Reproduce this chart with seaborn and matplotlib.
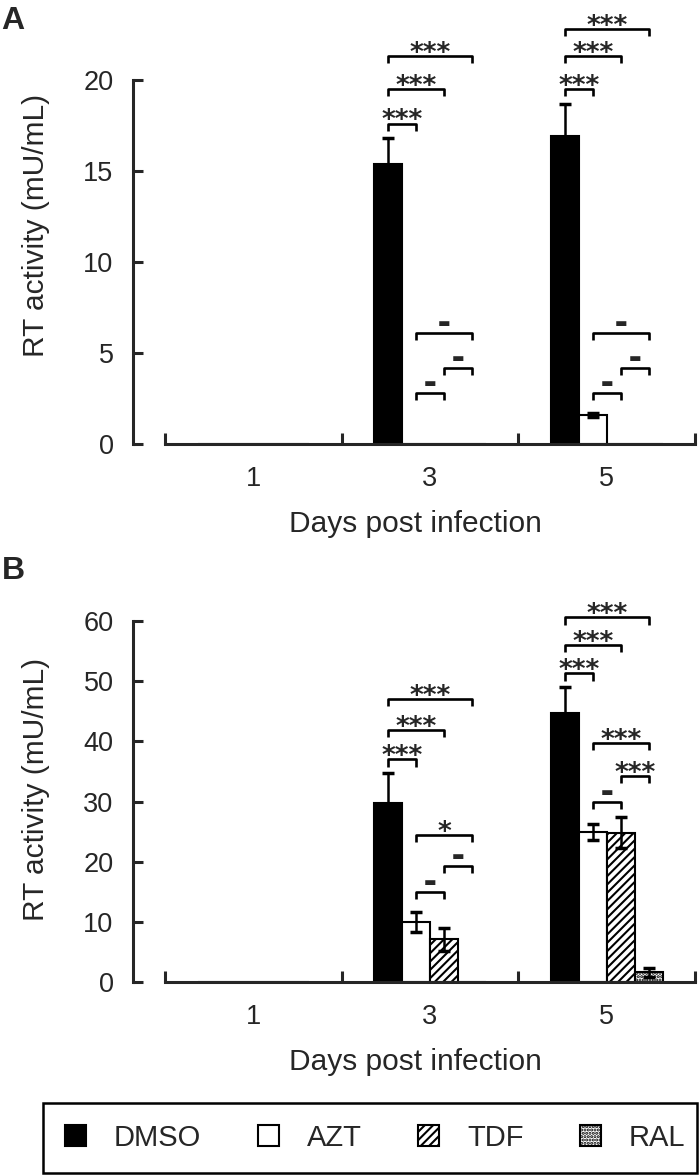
import pandas as pd
import matplotlib.pyplot as plt
import seaborn as sns
from matplotlib.patches import Rectangle

# values (mU/mL)
days = ['1', '3', '5']
drugs = ['DMSO', 'AZT', 'TDF', 'RAL']

# panel A
rt_a_dmso = [0, 15.4, 16.9]
rt_a_azt = [0, 0, 1.6]
rt_a_tdf = [0, 0, 0]
rt_a_ral = [0, 0, 0]
sd_a_dmso = [0, 1.4, 1.8]
sd_a_azt = [0, 0, 0.1]
sd_a_tdf = [0, 0, 0]
sd_a_ral = [0, 0, 0]

# panel B
rt_b_dmso = [0, 29.7, 44.7]
rt_b_azt = [0, 10.0, 24.9]
rt_b_tdf = [0, 7.1, 24.8]
rt_b_ral = [0, 0, 1.6]
sd_b_dmso = [0, 5.0, 4.3]
sd_b_azt = [0, 1.7, 1.3]
sd_b_tdf = [0, 1.9, 2.6]
sd_b_ral = [0, 0, 0.7]

# significance brackets: (day index, drug i, drug j, height, label)
sig_a = [
    (1, 0, 1, 17.6, '***'), (1, 0, 2, 19.5, '***'), (1, 0, 3, 21.3, '***'),
    (1, 1, 2, 2.8, '–'), (1, 2, 3, 4.2, '–'), (1, 1, 3, 6.1, '–'),
    (2, 0, 1, 19.5, '***'), (2, 0, 2, 21.3, '***'), (2, 0, 3, 22.8, '***'),
    (2, 1, 2, 2.8, '–'), (2, 2, 3, 4.2, '–'), (2, 1, 3, 6.1, '–'),
]
sig_b = [
    (1, 0, 1, 37.0, '***'), (1, 0, 2, 41.9, '***'), (1, 0, 3, 47.0, '***'),
    (1, 1, 2, 15.0, '–'), (1, 2, 3, 19.3, '–'), (1, 1, 3, 24.4, '*'),
    (2, 0, 1, 51.3, '***'), (2, 0, 2, 56.0, '***'), (2, 0, 3, 60.6, '***'),
    (2, 1, 2, 29.9, '–'), (2, 2, 3, 34.2, '***'), (2, 1, 3, 39.7, '***'),
]

sns.set_style('ticks')
plt.rcParams['font.family'] = ['Liberation Sans', 'DejaVu Sans']
plt.rcParams['hatch.linewidth'] = 1.5

palette = {'DMSO': 'black', 'AZT': 'white', 'TDF': 'white', 'RAL': 'white'}
hatches = {'DMSO': '', 'AZT': '', 'TDF': '////', 'RAL': '.....'}


def make_df(values, errors):
    rows = []
    for drug, vals, errs in zip(drugs, values, errors):
        for d, v, e in zip(days, vals, errs):
            rows.append({'day': d, 'drug': drug, 'rt': v, 'sd': e})
    return pd.DataFrame(rows)


def draw_panel(ax, df, ymax, ytop, ystep, leg, sig):
    sns.barplot(data=df, x='day', y='rt', hue='drug', order=days, hue_order=drugs,
                palette=palette, width=0.63, edgecolor='black', linewidth=1.5,
                errorbar=None, legend=False, ax=ax)
    bar_sets = list(ax.containers)
    centers = {}
    for i, cont in enumerate(bar_sets):
        drug = drugs[i]
        for j, bar in enumerate(cont.patches):
            bar.set_hatch(hatches[drug])
            x = bar.get_x() + bar.get_width() / 2
            centers[(j, i)] = x
            err = df[(df.drug == drug) & (df.day == days[j])]['sd'].iloc[0]
            if err > 0:
                ax.errorbar(x, bar.get_height(), yerr=err, color='black',
                            lw=1.8, capsize=4, capthick=2.5)
    # brackets
    for d, i, j, y, lab in sig:
        x1, x2 = centers[(d, i)], centers[(d, j)]
        ax.plot([x1, x1, x2, x2], [y - leg, y, y, y - leg], color='black',
                lw=1.9, clip_on=False, solid_capstyle='butt')
        if lab == '–':
            ax.annotate('▬', ((x1 + x2) / 2, y), xytext=(0, 2), textcoords='offset points',
                        ha='center', va='bottom', fontsize=9.5, family='DejaVu Sans')
        else:
            ax.annotate(lab, ((x1 + x2) / 2, y), xytext=(0, -3.5), textcoords='offset points',
                        ha='center', va='baseline', fontsize=19, fontweight='bold',
                        family='DejaVu Sans')

    ax.set_xlim(-0.68, 2.51)
    ax.set_ylim(0, ytop)
    ax.set_yticks(range(0, ymax + 1, ystep))
    sns.despine(ax=ax)
    ax.spines['left'].set_bounds(0, ymax)
    ax.spines['bottom'].set_bounds(-0.5, 2.5)
    for s in ['left', 'bottom']:
        ax.spines[s].set_linewidth(2.2)
    ax.set_xticks([-0.5, 0.5, 1.5, 2.5], minor=True)
    ax.tick_params(axis='x', which='major', length=0, labelsize=19.5, pad=16)
    ax.tick_params(axis='x', which='minor', direction='in', length=8, width=2.2)
    ax.tick_params(axis='y', direction='in', length=7, width=2.2, labelsize=19.5, pad=14)
    ax.set_xlabel('Days post infection', fontsize=21.5, labelpad=13)
    ax.set_ylabel('RT activity (mU/mL)', fontsize=21.5, labelpad=24)
    return bar_sets


fig = plt.figure(figsize=(7, 11.76), dpi=100)
axA = fig.add_axes([133 / 700, 1 - 444 / 1176, 564 / 700, 437 / 1176])
axB = fig.add_axes([133 / 700, 1 - 982 / 1176, 564 / 700, 385 / 1176])

df_a = make_df([rt_a_dmso, rt_a_azt, rt_a_tdf, rt_a_ral],
               [sd_a_dmso, sd_a_azt, sd_a_tdf, sd_a_ral])
df_b = make_df([rt_b_dmso, rt_b_azt, rt_b_tdf, rt_b_ral],
               [sd_b_dmso, sd_b_azt, sd_b_tdf, sd_b_ral])

draw_panel(axA, df_a, 20, 24, 5, 0.4, sig_a)
bars_b = draw_panel(axB, df_b, 60, 64, 10, 1.2, sig_b)

fig.text(0.002, 1 - 29 / 1176, 'A', fontsize=23, fontweight='bold')
fig.text(0.002, 1 - 579 / 1176, 'B', fontsize=23, fontweight='bold')

# legend box at the bottom
fig.patches.append(Rectangle((43 / 700, 3 / 1176), 654 / 700, 70 / 1176,
                             transform=fig.transFigure, fill=False,
                             edgecolor='black', linewidth=1.8))
leg = fig.legend(handles=bars_b, labels=drugs, ncol=4, loc='center left',
                 bbox_to_anchor=(65 / 700, 1 - 1138 / 1176), frameon=False,
                 fontsize=21, handlelength=0.72, handleheight=0.72,
                 handletextpad=0.95, columnspacing=1.95,
                 borderaxespad=0, borderpad=0)

fig.savefig('out.png', dpi=100)
